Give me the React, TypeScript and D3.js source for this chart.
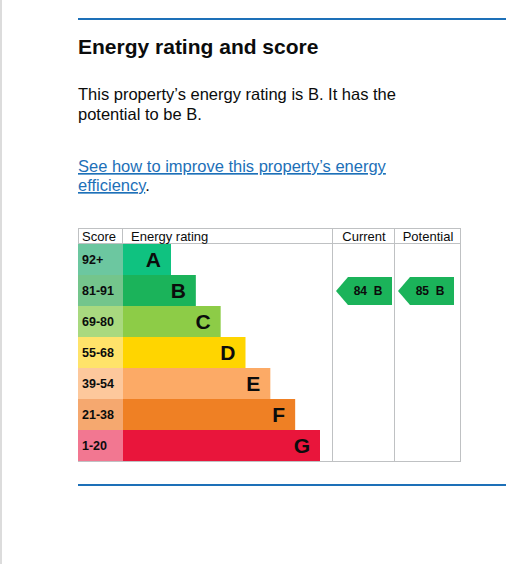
import React from "react";
import * as d3 from "d3";

const bands = ["A", "B", "C", "D", "E", "F", "G"];
const scoreRanges = ["92+", "81-91", "69-80", "55-68", "39-54", "21-38", "1-20"];
const bandColors = ["#0fc280", "#1bb35a", "#8dcc47", "#ffd500", "#fcaa66", "#ef8024", "#e9153b"];
const scoreColors = ["#6cc7a0", "#74c58c", "#a9d97f", "#ffe36a", "#fdc89c", "#f5a86f", "#f27791"];
const headers = ["Score", "Energy rating", "Current", "Potential"];
const currentScore = 84;
const currentBand = "B";
const potentialScore = 85;
const potentialBand = "B";

const W = 506;
const H = 564;
const BLUE = "#1d70b8";
const GRID = "#bfc1c3";
const FONT = "Arial, 'Liberation Sans', Helvetica, sans-serif";

export default function App() {
  const tableLeft = 78;
  const scoreRight = 123;
  const ratingRight = 332;
  const currentRight = 394;
  const tableRight = 460;
  const tableTop = 228;
  const headerBottom = 244;
  const tableBottom = 461;

  const y = d3.scaleBand<string>().domain(bands).range([headerBottom, tableBottom]).padding(0);
  const barEnd = d3.scalePoint<string>().domain(bands).range([171, 320]);

  const arrow = (x0: number, x1: number, band: string) => {
    const top = (y(band) as number) + 2;
    const h = y.bandwidth() - 3;
    const p = d3.path();
    p.moveTo(x0, top + h / 2);
    p.lineTo(x0 + 12, top);
    p.lineTo(x1, top);
    p.lineTo(x1, top + h);
    p.lineTo(x0 + 12, top + h);
    p.closePath();
    return { d: p.toString(), mid: top + h / 2 };
  };

  const cur = arrow(336, 392, currentBand);
  const pot = arrow(398, 454, potentialBand);
  const curColor = bandColors[bands.indexOf(currentBand)];
  const potColor = bandColors[bands.indexOf(potentialBand)];

  const bodyStyle = { fontFamily: FONT, fontSize: 16.5, fill: "#0b0c0c" } as const;

  return (
    <svg
      width={W}
      height={H}
      viewBox={`0 0 ${W} ${H}`}
      style={{ position: "absolute", left: 0, top: 0, background: "#fff", display: "block" }}
    >
      <rect x={0} y={0} width={W} height={H} fill="#fff" />
      <line x1={1} x2={1} y1={0} y2={H} stroke="#dcdcdc" strokeWidth={2} />
      <line x1={78} x2={W} y1={19} y2={19} stroke={BLUE} strokeWidth={2.2} />
      <text x={78} y={54} style={{ fontFamily: FONT, fontSize: 21, fontWeight: 700, fill: "#0b0c0c" }}>
        Energy rating and score
      </text>
      <text x={78} y={100} style={bodyStyle}>This property’s energy rating is B. It has the</text>
      <text x={78} y={120} style={bodyStyle}>potential to be B.</text>
      <text x={78} y={172} style={{ ...bodyStyle, fill: BLUE, textDecoration: "underline" }}>
        See how to improve this property’s energy
      </text>
      <text x={78} y={191} style={bodyStyle}>
        <tspan style={{ fill: BLUE, textDecoration: "underline" }}>efficiency</tspan>.
      </text>

      {/* rows */}
      {bands.map((b, i) => (
        <g key={b}>
          <rect x={tableLeft} y={y(b)} width={scoreRight - tableLeft} height={y.bandwidth()} fill={scoreColors[i]} />
          <rect x={scoreRight} y={y(b)} width={(barEnd(b) as number) - scoreRight} height={y.bandwidth()} fill={bandColors[i]} />
          <text
            x={82}
            y={(y(b) as number) + y.bandwidth() / 2 + 4.5}
            style={{ fontFamily: FONT, fontSize: 12.5, fontWeight: 700, fill: "#0b0c0c" }}
          >
            {scoreRanges[i]}
          </text>
          <text
            x={(barEnd(b) as number) - 10}
            y={(y(b) as number) + y.bandwidth() / 2 + 7.5}
            textAnchor="end"
            style={{ fontFamily: FONT, fontSize: 21, fontWeight: 700, fill: "#0b0c0c" }}
          >
            {b}
          </text>
        </g>
      ))}

      {/* grid */}
      <g stroke={GRID} strokeWidth={1} fill="none">
        <line x1={tableLeft} x2={tableRight + 0.5} y1={tableTop + 0.5} y2={tableTop + 0.5} />
        <line x1={tableLeft} x2={tableRight + 0.5} y1={headerBottom - 0.5} y2={headerBottom - 0.5} />
        <line x1={tableLeft} x2={tableRight + 0.5} y1={tableBottom + 0.5} y2={tableBottom + 0.5} />
        <line x1={tableLeft + 0.5} x2={tableLeft + 0.5} y1={tableTop} y2={headerBottom} />
        <line x1={scoreRight - 0.5} x2={scoreRight - 0.5} y1={tableTop} y2={headerBottom} />
        <line x1={ratingRight + 0.5} x2={ratingRight + 0.5} y1={tableTop} y2={tableBottom + 1} />
        <line x1={currentRight + 0.5} x2={currentRight + 0.5} y1={tableTop} y2={tableBottom + 1} />
        <line x1={tableRight + 0.5} x2={tableRight + 0.5} y1={tableTop} y2={tableBottom + 1} />
      </g>

      {/* headers */}
      <g style={{ fontFamily: FONT, fontSize: 13, fontWeight: 400, fill: "#0b0c0c" }}>
        <text x={82} y={241}>{headers[0]}</text>
        <text x={131} y={241}>{headers[1]}</text>
        <text x={(ratingRight + currentRight) / 2 + 1} y={241} textAnchor="middle">{headers[2]}</text>
        <text x={(currentRight + tableRight) / 2 + 1} y={241} textAnchor="middle">{headers[3]}</text>
      </g>

      {/* arrows */}
      <path d={cur.d} fill={curColor} />
      <path d={pot.d} fill={potColor} />
      <text
        x={368}
        y={cur.mid + 4.3}
        textAnchor="middle"
        style={{ fontFamily: FONT, fontSize: 12, fontWeight: 700, fill: "#0b0c0c", whiteSpace: "pre" }}
      >
        {`${currentScore}  ${currentBand}`}
      </text>
      <text
        x={430}
        y={pot.mid + 4.3}
        textAnchor="middle"
        style={{ fontFamily: FONT, fontSize: 12, fontWeight: 700, fill: "#0b0c0c", whiteSpace: "pre" }}
      >
        {`${potentialScore}  ${potentialBand}`}
      </text>

      <line x1={78} x2={W} y1={485} y2={485} stroke={BLUE} strokeWidth={2.2} />
    </svg>
  );
}
